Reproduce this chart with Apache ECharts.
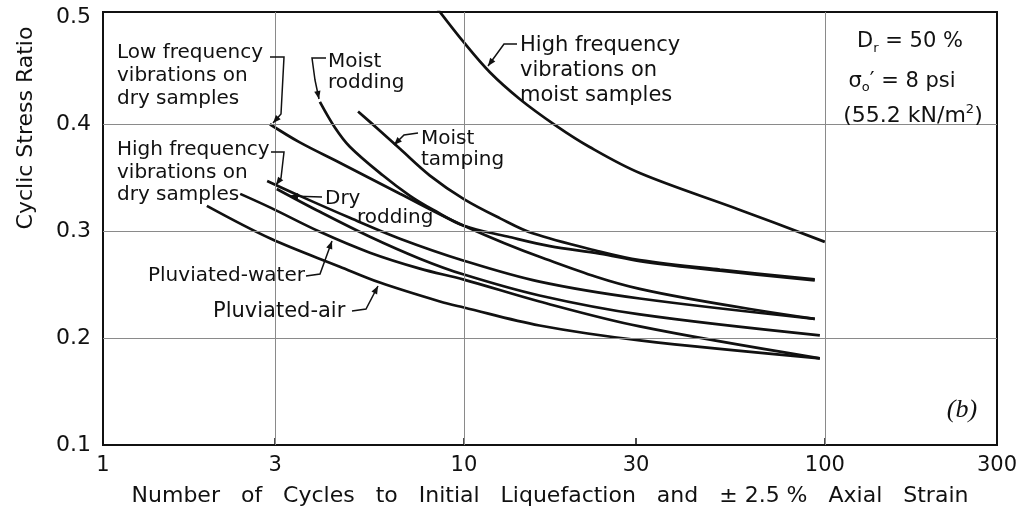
<!DOCTYPE html>
<html>
<head>
<meta charset="utf-8">
<title>Cyclic stress ratio vs cycles</title>
<style>
body{margin:0;padding:0;background:#fff;}
#main{width:1021px;height:512px;}
</style>
</head>
<body>
<div id="main"></div>
<script src="https://cdn.jsdelivr.net/npm/echarts@6/dist/echarts.min.js"></script>
<script>
// values: number of cycles N and cyclic stress ratio
var hfMoistN   = [8.45, 10, 11.8, 14.3, 17.9, 22.3, 30.7, 58.2, 100];
var hfMoistCSR = [0.508, 0.4765, 0.4486, 0.4234, 0.3992, 0.3787, 0.3544, 0.3199, 0.290];

var mTampN   = [5.09, 5.85, 6.65, 8.05, 10, 12.6, 15.5, 23.8, 30.7, 51.2, 93.8];
var mTampCSR = [0.412, 0.394, 0.377, 0.352, 0.330, 0.312, 0.298, 0.281, 0.273, 0.264, 0.255];

var mRodN   = [3.99, 4.39, 4.83, 5.97, 7.09, 8.21, 10, 13.2, 17.3, 23.8, 30.7, 51.2, 93.8];
var mRodCSR = [0.421, 0.397, 0.379, 0.352, 0.333, 0.320, 0.305, 0.295, 0.286, 0.279, 0.272, 0.263, 0.254];

var lfDryN   = [2.90, 3.51, 4.53, 6.65, 10, 16.2, 30.7, 93.8];
var lfDryCSR = [0.400, 0.383, 0.364, 0.335, 0.305, 0.276, 0.246, 0.218];

var hfDryN   = [2.85, 3.51, 4.83, 6.65, 10, 16.2, 30.7, 93.8];
var hfDryCSR = [0.347, 0.333, 0.3125, 0.293, 0.2724, 0.2528, 0.237, 0.218];

var dRodN   = [3.03, 3.99, 5.49, 7.55, 10, 16.2, 30.7, 96.9];
var dRodCSR = [0.3395, 0.3181, 0.2948, 0.2743, 0.2594, 0.2398, 0.2221, 0.2025];

var pWaterN   = [2.40, 2.92, 3.99, 5.49, 7.55, 10, 16.2, 30.7, 96.9];
var pWaterCSR = [0.3349, 0.3218, 0.2994, 0.2799, 0.2650, 0.2547, 0.2342, 0.2109, 0.1811];

var pAirN   = [1.94, 2.92, 4.53, 5.85, 8.58, 10, 16.2, 30.7, 96.9];
var pAirCSR = [0.3237, 0.2929, 0.2668, 0.2519, 0.2342, 0.2286, 0.2118, 0.1979, 0.1811];

var xTicks = [1, 3, 10, 30, 100, 300];
var yTicks = [0.1, 0.2, 0.3, 0.4, 0.5];
var gridX = [3, 10, 100];
var gridY = [0.2, 0.3, 0.4];

var FONT = '"DejaVu Sans", sans-serif';
var INK = '#111';

function pairs(n, v){
  var out = [];
  for(var i=0;i<n.length;i++) out.push([n[i], v[i]]);
  return out;
}

function curve(name, n, v, extra){
  var s = {
    name: name,
    type: 'line',
    data: pairs(n, v),
    showSymbol: false,
    smooth: 0.35,
    clip: true,
    lineStyle: {color: INK, width: 2.7},
    silent: true
  };
  if(extra) for(var k in extra) s[k] = extra[k];
  return s;
}

function label(x, y, text, size, lh){
  return {
    type: 'text', x: x, y: y, z: 100,
    style: {text: text, font: size + 'px ' + FONT, fill: INK, lineHeight: lh || size + 3, verticalAlign: 'top'}
  };
}

function leader(pts){
  var p1 = pts[pts.length-2], p2 = pts[pts.length-1];
  var a = Math.atan2(p2[1]-p1[1], p2[0]-p1[0]);
  var L = 8, W = 3.2, c = Math.cos(a), s = Math.sin(a);
  return [
    {type: 'polyline', z: 100, shape: {points: pts}, style: {stroke: INK, lineWidth: 1.5, fill: null}},
    {type: 'polygon', z: 100, shape: {points: [
      [p2[0], p2[1]],
      [p2[0]-L*c+W*s, p2[1]-L*s-W*c],
      [p2[0]-L*c-W*s, p2[1]-L*s+W*c]
    ]}, style: {fill: INK}}
  ];
}

var myChart = echarts.init(document.getElementById('main'));

var gridMarks = [];
gridX.forEach(function(v){ gridMarks.push({xAxis: v}); });
gridY.forEach(function(v){ gridMarks.push({yAxis: v}); });

var graphics = [
  {type: 'text', x: 26, y: 128, rotation: Math.PI/2, z: 100,
   style: {text: 'Cyclic Stress Ratio', font: '22px ' + FONT, fill: INK, align: 'center', verticalAlign: 'middle'}},
  label(117, 41, 'Low frequency\nvibrations on\ndry samples', 20, 23),
  label(117, 139, 'High frequency\nvibrations on\ndry samples', 20, 22.5),
  label(328, 51, 'Moist\nrodding', 20, 21),
  label(421, 128, 'Moist\ntamping', 20, 21),
  label(520, 33, 'High frequency\nvibrations on\nmoist samples', 21, 25),
  label(325, 187, 'Dry', 20),
  label(357, 206, 'rodding', 20),
  label(148, 264, 'Pluviated-water', 20),
  label(213, 300, 'Pluviated-air', 21),
  {type: 'text', x: 910, y: 42, z: 100,
   style: {text: 'D{s|r} = 50 %', font: '21px ' + FONT, fill: INK, align: 'center', verticalAlign: 'middle',
     rich: {s: {fontSize: 13, fontFamily: FONT, fill: INK, padding: [14, 0, 0, 0]}}}},
  {type: 'text', x: 902, y: 82, z: 100,
   style: {text: 'σ{s|o}′ = 8 psi', font: '21px ' + FONT, fill: INK, align: 'center', verticalAlign: 'middle',
     rich: {s: {fontSize: 13, fontFamily: FONT, fill: INK, padding: [12, 0, 0, 0]}}}},
  {type: 'text', x: 913, y: 116, z: 100,
   style: {text: '(55.2 kN/m{p|2})', font: '22px ' + FONT, fill: INK, align: 'center', verticalAlign: 'middle',
     rich: {p: {fontSize: 13, fontFamily: FONT, fill: INK, padding: [0, 0, 12, 0]}}}},
  {type: 'text', x: 962, y: 410, z: 100,
   style: {text: '(b)', font: 'italic 26px "Liberation Serif", serif', fill: INK, align: 'center', verticalAlign: 'middle'}}
];
[
  [[270,57],[284,57],[281,114],[273,123]],
  [[271,152],[284,152],[281,178],[276,185]],
  [[326,58],[312,58],[315,80],[319,99]],
  [[418,133],[404,135],[394,145]],
  [[517,44],[504,44],[488,66]],
  [[322,197],[290,196]],
  [[306,276],[320,274],[332,241]],
  [[352,311],[366,309],[378,286]]
].forEach(function(p){ graphics = graphics.concat(leader(p)); });

var option = {
  animation: false,
  backgroundColor: '#fff',
  grid: {left: 103, right: 24, top: 12, bottom: 65, show: true, borderColor: INK, borderWidth: 2},
  xAxis: {
    type: 'log', logBase: 10, min: 1, max: 300,
    name: 'Number   of   Cycles   to   Initial   Liquefaction   and   ± 2.5 %   Axial   Strain',
    nameLocation: 'middle', nameGap: 40,
    nameTextStyle: {fontFamily: FONT, fontSize: 22, color: INK},
    axisLine: {lineStyle: {color: INK, width: 2}},
    axisTick: {show: true, inside: true, length: 7, customValues: [3, 10, 30, 100], lineStyle: {color: INK, width: 1.5}},
    axisLabel: {customValues: xTicks, fontFamily: FONT, fontSize: 21, color: INK, margin: 10,
      formatter: function(v){ return String(Math.round(v)); }},
    splitLine: {show: false},
    minorTick: {show: false}
  },
  yAxis: {
    type: 'value', min: 0.1, max: 0.505, interval: 0.1,
    axisLine: {show: true, lineStyle: {color: INK, width: 2}},
    axisTick: {show: false},
    axisLabel: {customValues: yTicks, fontFamily: FONT, fontSize: 22, color: INK, margin: 12,
      formatter: function(v){ return v.toFixed(1); }},
    splitLine: {show: false}
  },
  graphic: graphics,
  series: [
    curve('High frequency vibrations on moist samples', hfMoistN, hfMoistCSR, {
      markLine: {silent: true, symbol: 'none', label: {show: false},
        lineStyle: {color: '#8a8a8a', width: 1, type: 'solid'}, data: gridMarks}
    }),
    curve('Moist tamping', mTampN, mTampCSR),
    curve('Moist rodding', mRodN, mRodCSR),
    curve('Low frequency vibrations on dry samples', lfDryN, lfDryCSR),
    curve('High frequency vibrations on dry samples', hfDryN, hfDryCSR),
    curve('Dry rodding', dRodN, dRodCSR),
    curve('Pluviated-water', pWaterN, pWaterCSR),
    curve('Pluviated-air', pAirN, pAirCSR)
  ]
};
myChart.setOption(option);
</script>
</body>
</html>
